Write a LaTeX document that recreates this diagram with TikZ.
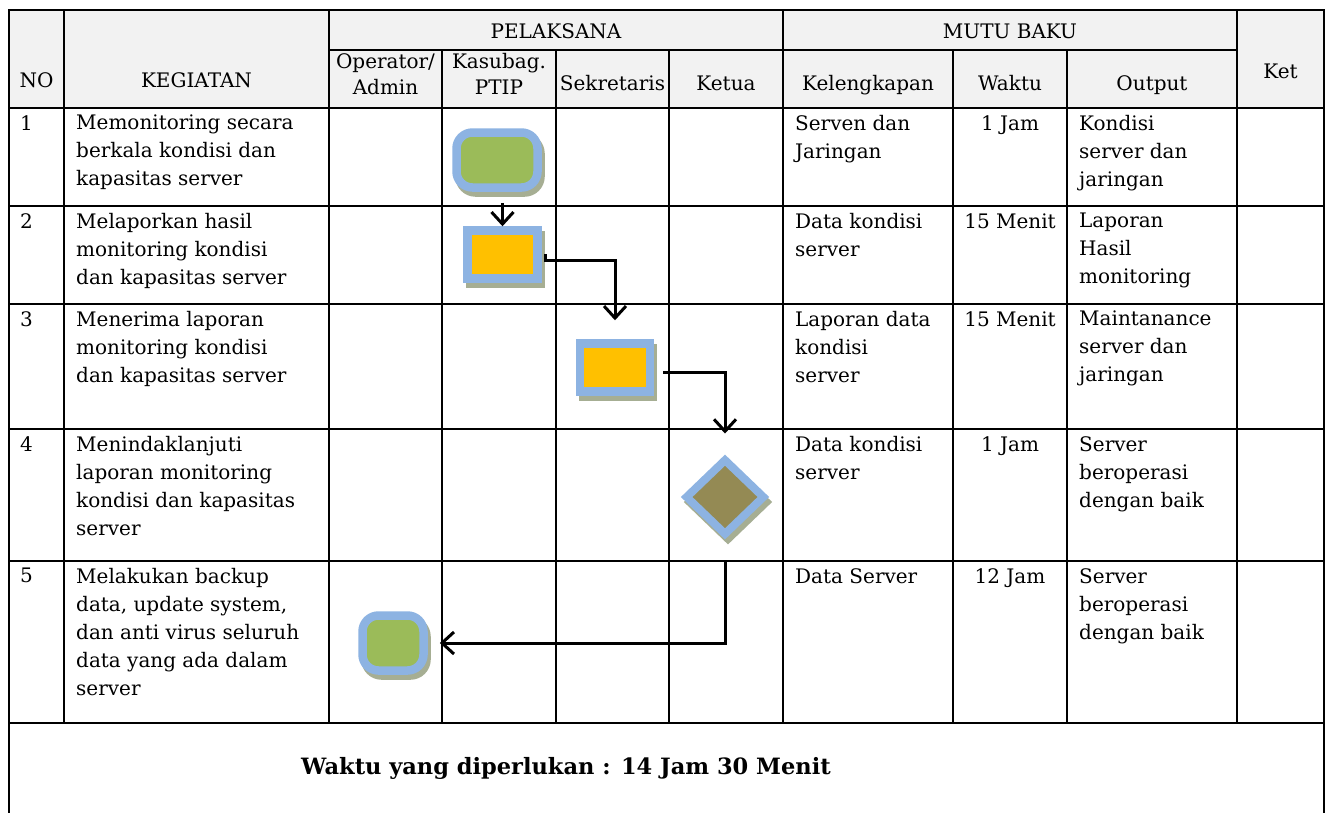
\documentclass[tikz,border=0pt]{standalone}
\usepackage{fontspec}
\setmainfont{DejaVu Serif}
\usetikzlibrary{arrows.meta,shapes.geometric}
\definecolor{hdrgray}{HTML}{F2F2F2}
\definecolor{bdblue}{HTML}{8DB3E2}
\definecolor{fgreen}{HTML}{9BBB59}
\definecolor{forange}{HTML}{FFC000}
\definecolor{folive}{HTML}{948A54}
\definecolor{shadowc}{HTML}{A6AE93}
\tikzset{
  gridline/.style={line width=2pt, line cap=rect},
  hdr/.style={font=\fontsize{20}{26}\selectfont, align=center, inner sep=0pt},
  hdrb/.style={font=\fontsize{20}{26}\selectfont, anchor=base, inner sep=0pt},
  cell/.style={font=\fontsize{20}{28}\selectfont, align=left, anchor=north west, inner sep=0pt},
  cellc/.style={font=\fontsize{20}{28}\selectfont, align=center, anchor=north, inner sep=0pt},
  termbox/.style={rectangle, rounded corners=16pt, line width=8.5pt, inner sep=0pt, minimum width=#1, minimum height=55pt},
  procbox/.style={rectangle, line width=8.5pt, inner sep=0pt, minimum width=70pt, minimum height=48pt},
  decbox/.style={diamond, line width=8pt, inner sep=0pt, minimum width=80pt, minimum height=77pt},
  colored/.style={draw=bdblue, fill=#1},
  shadowed/.style={draw=shadowc, fill=shadowc},
  conn/.style={line width=3pt, -{Straight Barb[length=12pt,width=22pt]}},
}
\begin{document}
\begin{tikzpicture}[x=1pt,y=-1pt]
\useasboundingbox (0,0) rectangle (1331,812);
\fill[white] (0,0) rectangle (1331,812);
\fill[hdrgray] (9,10) rectangle (1324,108);
% horizontal lines
\draw[gridline] (9,10) -- (1324,10);
\draw[gridline] (329,50) -- (1237,50);
\foreach \yy in {108,206,304,429,561,723} \draw[gridline] (9,\yy) -- (1324,\yy);
% vertical lines
\draw[gridline] (9,10) -- (9,812);
\draw[gridline] (1324,10) -- (1324,812);
\foreach \xx in {64,329,783,1237} \draw[gridline] (\xx,10) -- (\xx,723);
\foreach \xx in {442,556,669,953,1067} \draw[gridline] (\xx,50) -- (\xx,723);
% header texts
\node[hdrb] (hNO) at (36.5,87) {NO};
\node[hdrb] (hKeg) at (196.5,87) {KEGIATAN};
\node[hdrb] (hPel) at (556,38) {PELAKSANA};
\node[hdrb] (hMutu) at (1010,38) {MUTU BAKU};
\node[hdrb] (hKet) at (1280.5,78) {Ket};
\node[hdr, anchor=north] (hOp) at (385.5,53) {Operator/\\Admin};
\node[hdr, anchor=north] (hKas) at (499,53) {Kasubag.\\PTIP};
\node[hdrb] (hSek) at (612.5,90) {Sekretaris};
\node[hdrb] (hKetua) at (726,90) {Ketua};
\node[hdrb] (hKel) at (868,90) {Kelengkapan};
\node[hdrb] (hWak) at (1010,90) {Waktu};
\node[hdrb] (hOut) at (1152,90) {Output};
% row 1
\node[cell] (n1) at (20,115) {1};
\node[cell] (k1) at (76,115) {Memonitoring secara\\berkala kondisi dan\\kapasitas server};
\node[cell] (l1) at (795,115) {Serven dan\\Jaringan};
\node[cellc] (w1) at (1010,115) {1 Jam};
\node[cell] (o1) at (1079,115) {Kondisi\\server dan\\jaringan};
% row 2
\node[cell] (n2) at (20,213) {2};
\node[cell] (k2) at (76,213) {Melaporkan hasil\\monitoring kondisi\\dan kapasitas server};
\node[cell] (l2) at (795,213) {Data kondisi\\server};
\node[cellc] (w2) at (1010,213) {15 Menit};
\node[cell] (o2) at (1079,213) {Laporan\\Hasil\\monitoring};
% row 3
\node[cell] (n3) at (20,311) {3};
\node[cell] (k3) at (76,311) {Menerima laporan\\monitoring kondisi\\dan kapasitas server};
\node[cell] (l3) at (795,311) {Laporan data\\kondisi\\server};
\node[cellc] (w3) at (1010,311) {15 Menit};
\node[cell] (o3) at (1079,311) {Maintanance\\server dan\\jaringan};
% row 4
\node[cell] (n4) at (20,436) {4};
\node[cell] (k4) at (76,436) {Menindaklanjuti\\laporan monitoring\\kondisi dan kapasitas\\server};
\node[cell] (l4) at (795,436) {Data kondisi\\server};
\node[cellc] (w4) at (1010,436) {1 Jam};
\node[cell] (o4) at (1079,436) {Server\\beroperasi\\dengan baik};
% row 5
\node[cell] (n5) at (20,568) {5};
\node[cell] (k5) at (76,568) {Melakukan backup\\data, update system,\\dan anti virus seluruh\\data yang ada dalam\\server};
\node[cell] (l5) at (795,568) {Data Server};
\node[cellc] (w5) at (1010,568) {12 Jam};
\node[cell] (o5) at (1079,568) {Server\\beroperasi\\dengan baik};
% footer
\node[hdr, font=\fontsize{22.5}{28}\selectfont\bfseries] (foot) at (566,768) {Waktu yang diperlukan : 14 Jam 30 Menit};
% shadows
\node[termbox=81pt, shadowed] (t1s) at (500,165) {};
\node[procbox, shadowed] (r1s) at (505.5,259.5) {};
\node[procbox, shadowed] (r2s) at (618,372.5) {};
\node[decbox, shadowed] (ds) at (728,502) {};
\node[termbox=61pt, shadowed] (t2s) at (396,648) {};
% shapes
\node[termbox=81pt, colored=fgreen] (t1) at (497,160) {};
\node[procbox, colored=forange] (r1) at (502.5,254.5) {};
\node[procbox, colored=forange] (r2) at (615,367.5) {};
\node[decbox, colored=folive] (d) at (725,497) {};
\node[termbox=61pt, colored=fgreen] (t2) at (393,643) {};
% connectors
\coordinate (c2) at (545,254);
\coordinate (c3) at (663,372);
\draw[conn, shorten <=11pt] (r1.north |- t1.south) -- (r1.north);
\draw[conn, shorten >=19pt] (c2) -- ++(0,6) -| (r2.north);
\draw[conn, shorten >=21pt] (c3) -| (d.north);
\draw[conn, shorten <=22pt, shorten >=12pt] (d.south) |- (t2.east);
\end{tikzpicture}
\end{document}
